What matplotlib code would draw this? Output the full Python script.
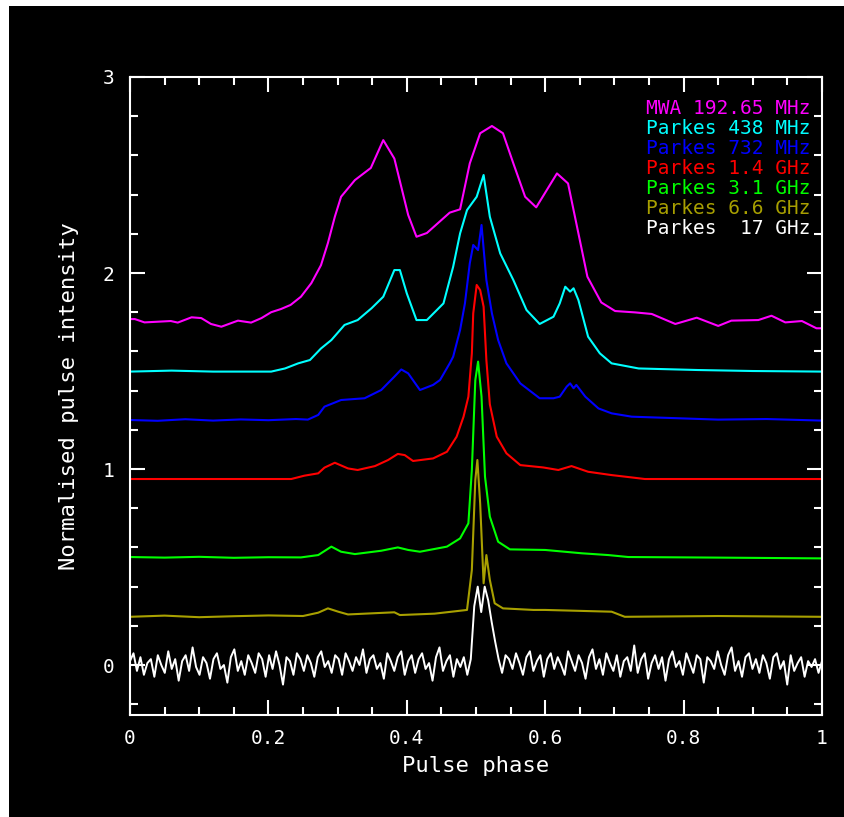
import numpy as np
import matplotlib
matplotlib.use("Agg")
import matplotlib.pyplot as plt
from matplotlib.patches import Rectangle
from matplotlib.ticker import MultipleLocator

# ---------------- data ----------------
mwa_phase = [0.0, 0.007, 0.021, 0.059, 0.069, 0.089, 0.103, 0.117, 0.132, 0.156, 0.175, 0.190,
             0.204, 0.218, 0.232, 0.247, 0.262, 0.276, 0.286, 0.296, 0.305, 0.325, 0.348, 0.366,
             0.382, 0.402, 0.414, 0.429, 0.462, 0.477, 0.491, 0.506, 0.523, 0.539, 0.554, 0.571,
             0.587, 0.617, 0.633, 0.646, 0.661, 0.681, 0.701, 0.730, 0.754, 0.788, 0.819, 0.850,
             0.869, 0.908, 0.927, 0.947, 0.971, 0.992, 1.0]
mwa_val = [1.765, 1.765, 1.748, 1.755, 1.747, 1.774, 1.770, 1.740, 1.726, 1.757, 1.747, 1.770,
           1.800, 1.816, 1.837, 1.879, 1.948, 2.040, 2.153, 2.287, 2.389, 2.474, 2.536, 2.678,
           2.584, 2.296, 2.185, 2.204, 2.308, 2.325, 2.559, 2.713, 2.750, 2.713, 2.559, 2.389,
           2.335, 2.508, 2.457, 2.236, 1.981, 1.850, 1.806, 1.799, 1.791, 1.740, 1.772, 1.730,
           1.757, 1.760, 1.782, 1.748, 1.755, 1.718, 1.718]

p438_phase = [0.0, 0.06, 0.12, 0.204, 0.224, 0.243, 0.260, 0.276, 0.291, 0.310, 0.329, 0.349,
              0.366, 0.382, 0.390, 0.400, 0.414, 0.429, 0.453, 0.467, 0.477, 0.487, 0.501,
              0.511, 0.520, 0.535, 0.554, 0.573, 0.592, 0.612, 0.621, 0.629, 0.636, 0.641,
              0.648, 0.662, 0.679, 0.696, 0.735, 0.821, 0.90, 1.0]
p438_val = [1.497, 1.502, 1.497, 1.497, 1.513, 1.539, 1.556, 1.615, 1.658, 1.735, 1.760, 1.820,
            1.879, 2.015, 2.015, 1.896, 1.760, 1.760, 1.845, 2.032, 2.202, 2.321, 2.389,
            2.500, 2.287, 2.100, 1.964, 1.811, 1.740, 1.777, 1.845, 1.930, 1.905, 1.922,
            1.862, 1.675, 1.590, 1.539, 1.513, 1.505, 1.500, 1.497]

p732_phase = [0.0, 0.04, 0.08, 0.12, 0.16, 0.20, 0.24, 0.257, 0.272, 0.281, 0.305, 0.339,
              0.363, 0.382, 0.392, 0.402, 0.419, 0.438, 0.448, 0.462, 0.467, 0.477, 0.484,
              0.491, 0.496, 0.503, 0.508, 0.515, 0.523, 0.532, 0.544, 0.564, 0.592, 0.612,
              0.621, 0.631, 0.636, 0.641, 0.645, 0.658, 0.677, 0.696, 0.725, 0.792, 0.85,
              0.92, 1.0]
p732_val = [1.250, 1.246, 1.254, 1.247, 1.253, 1.249, 1.255, 1.252, 1.276, 1.318, 1.352, 1.361,
            1.403, 1.471, 1.508, 1.488, 1.403, 1.429, 1.454, 1.539, 1.573, 1.709, 1.845,
            2.049, 2.143, 2.117, 2.245, 1.964, 1.794, 1.658, 1.539, 1.437, 1.361, 1.361,
            1.369, 1.420, 1.437, 1.412, 1.429, 1.369, 1.309, 1.284, 1.267, 1.259, 1.252,
            1.255, 1.247]

p14_phase = [0.0, 0.233, 0.252, 0.272, 0.281, 0.296, 0.315, 0.329, 0.354, 0.373, 0.387, 0.397,
             0.409, 0.438, 0.458, 0.472, 0.482, 0.489, 0.494, 0.496, 0.501, 0.506, 0.511,
             0.515, 0.520, 0.530, 0.544, 0.564, 0.597, 0.619, 0.638, 0.662, 0.696, 0.725,
             0.744, 1.0]
p14_val = [0.949, 0.949, 0.966, 0.978, 1.007, 1.032, 1.003, 0.995, 1.015, 1.046, 1.077, 1.071,
           1.041, 1.054, 1.088, 1.165, 1.267, 1.369, 1.590, 1.794, 1.939, 1.913, 1.828,
           1.556, 1.330, 1.165, 1.080, 1.020, 1.008, 0.995, 1.015, 0.986, 0.969, 0.957,
           0.949, 0.949]

p31_phase = [0.0, 0.05, 0.10, 0.15, 0.20, 0.247, 0.272, 0.291, 0.305, 0.325, 0.363, 0.387,
             0.402, 0.419, 0.458, 0.477, 0.489, 0.494, 0.499, 0.503, 0.508, 0.513, 0.520,
             0.532, 0.549, 0.600, 0.653, 0.691, 0.720, 0.85, 1.0]
p31_val = [0.551, 0.548, 0.552, 0.547, 0.550, 0.549, 0.561, 0.604, 0.578, 0.566, 0.583, 0.600,
           0.587, 0.578, 0.604, 0.646, 0.723, 0.995, 1.454, 1.548, 1.369, 0.961, 0.757,
           0.629, 0.590, 0.587, 0.570, 0.561, 0.551, 0.548, 0.544]

p66_phase = [0.0, 0.05, 0.10, 0.15, 0.20, 0.25, 0.272, 0.286, 0.301, 0.315, 0.382, 0.390,
             0.440, 0.487, 0.494, 0.499, 0.502, 0.506, 0.511, 0.515, 0.520, 0.527, 0.539,
             0.583, 0.600, 0.696, 0.715, 0.85, 1.0]
p66_val = [0.246, 0.252, 0.244, 0.249, 0.253, 0.250, 0.267, 0.289, 0.272, 0.258, 0.269, 0.255,
           0.262, 0.281, 0.485, 0.944, 1.046, 0.825, 0.417, 0.561, 0.434, 0.315, 0.289,
           0.281, 0.281, 0.272, 0.246, 0.250, 0.246]

p17_val = [0.02, 0.06, -0.03, 0.04, -0.05, 0.01, 0.03, -0.06, 0.05, 0.00, -0.04, 0.07, -0.02, 0.03, -0.08, 0.02, 0.05, -0.03, 0.09, -0.01,
           -0.05, 0.04, 0.01, -0.07, 0.03, 0.06, -0.02, 0.00, -0.09, 0.04, 0.08, -0.03, 0.02, -0.05, 0.05, 0.01, -0.04, 0.06, 0.03, -0.06,
           0.05, -0.02, 0.07, 0.00, -0.10, 0.04, 0.02, -0.05, 0.06, 0.03, -0.03, 0.05, 0.01, -0.06, 0.04, 0.07, -0.01, 0.02, -0.04, 0.05,
           0.03, -0.05, 0.06, 0.02, -0.03, 0.04, 0.00, 0.08, -0.04, 0.03, 0.05, -0.02, 0.01, -0.07, 0.06, 0.02, -0.03, 0.04, 0.07, -0.05,
           0.02, 0.05, -0.04, 0.03, 0.06, -0.02, 0.01, -0.08, 0.04, 0.09, -0.03, 0.02, 0.05, -0.06, 0.03, -0.01, 0.04, -0.05, 0.03, 0.30,
           0.40, 0.27, 0.40, 0.33, 0.22, 0.12, 0.03, -0.04, 0.05, 0.03, -0.02, 0.06, 0.01, -0.05, 0.04, 0.07, -0.03, 0.02, 0.05, -0.06,
           0.03, 0.06, -0.02, 0.04, 0.00, -0.05, 0.07, 0.02, -0.03, 0.05, 0.01, -0.07, 0.04, 0.08, -0.02, 0.03, -0.05, 0.06, 0.01, -0.03,
           0.05, -0.06, 0.02, 0.04, -0.03, 0.10, -0.04, 0.03, 0.06, -0.07, 0.01, 0.05, -0.02, 0.04, -0.08, 0.03, 0.07, -0.01, 0.02, -0.05,
           0.06, 0.01, -0.04, 0.05, 0.03, -0.09, 0.04, 0.02, -0.02, 0.07, 0.00, -0.05, 0.05, 0.09, -0.03, 0.02, -0.06, 0.04, 0.06, -0.02,
           0.03, -0.04, 0.05, 0.01, -0.07, 0.04, 0.06, -0.02, 0.02, -0.10, 0.05, -0.03, 0.01, 0.04, -0.06, 0.02, -0.01, 0.03, -0.04, 0.02]
p17_phase = np.linspace(0.0, 1.0, len(p17_val))

labels = ["MWA 192.65 MHz", "Parkes 438 MHz", "Parkes 732 MHz", "Parkes 1.4 GHz",
          "Parkes 3.1 GHz", "Parkes 6.6 GHz", "Parkes  17 GHz"]
colors = ["#ff00ff", "#00ffff", "#0000ff", "#ff0000", "#00ff00", "#a8a000", "#ffffff"]

x_ticks = [0, 0.2, 0.4, 0.6, 0.8, 1]
x_ticklabels = ["0", "0.2", "0.4", "0.6", "0.8", "1"]
y_ticks = [0, 1, 2, 3]
y_ticklabels = ["0", "1", "2", "3"]

# ---------------- figure ----------------
W, H = 844, 817
fig = plt.figure(figsize=(W / 100, H / 100), dpi=100, facecolor="white")
bg = Rectangle((9 / W, 0), 1 - 9 / W, 1 - 6 / H, transform=fig.transFigure,
               facecolor="black", edgecolor="none", zorder=-10)
fig.patches.append(bg)

ax = fig.add_axes([130 / W, 1 - 715 / H, (822 - 130) / W, (715 - 77) / H])
ax.set_zorder(1)
ax.set_facecolor("black")

font = "DejaVu Sans Mono"
lw = 1.5
series = [(mwa_phase, mwa_val), (p438_phase, p438_val), (p732_phase, p732_val),
          (p14_phase, p14_val), (p31_phase, p31_val), (p66_phase, p66_val)]
for (xs, ys), c in zip(series, colors[:6]):
    ax.plot(xs, ys, color=c, lw=lw)
ax.plot(p17_phase, p17_val, color=colors[6], lw=1.4)

ax.set_xlim(0, 1)
ax.set_ylim(-0.255, 3.0)

for sp in ax.spines.values():
    sp.set_color("white")
    sp.set_linewidth(1.5)

ax.set_xticks(x_ticks)
ax.set_xticklabels(x_ticklabels)
ax.set_yticks(y_ticks)
ax.set_yticklabels(y_ticklabels)
ax.xaxis.set_minor_locator(MultipleLocator(0.05))
ax.yaxis.set_minor_locator(MultipleLocator(0.2))
ax.tick_params(which="both", direction="in", top=True, right=True, colors="white",
               labelcolor="white", width=1.5)
ax.tick_params(which="major", length=11)
ax.tick_params(which="minor", length=5.5)
ax.tick_params(axis="x", which="major", pad=10, labelsize=14)
ax.tick_params(axis="y", which="major", pad=11, labelsize=14)
for lab in ax.get_xticklabels() + ax.get_yticklabels():
    lab.set_fontfamily(font)

ax.set_xlabel("Pulse phase", color="white", fontsize=16, family=font, labelpad=6)
ax.set_ylabel("Normalised pulse intensity", color="white", fontsize=16, family=font, labelpad=17)

# legend rows: pixel centres 108 .. 228, 20 px apart
ys_leg = [(715 - (108 + 20 * i)) / 638 for i in range(len(labels))]
for t, c, yy in zip(labels, colors, ys_leg):
    ax.text(0.983, yy, t, color=c, fontsize=14, family=font, ha="right", va="center",
            transform=ax.transAxes)

fig.savefig("out.png", dpi=100, facecolor=fig.get_facecolor())
